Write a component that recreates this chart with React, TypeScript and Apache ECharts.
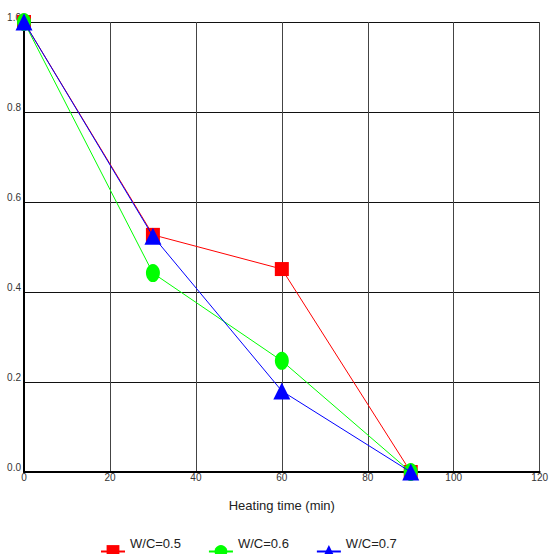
import React, { useEffect, useRef } from "react";
import * as echarts from "echarts";

// Heating time (min) at which each residual ratio was measured
const heatingTimes = [0, 30, 60, 90];

// Residual ratio for each water/cement ratio
const wc05 = [1.0, 0.527, 0.451, 0.0];
const wc06 = [1.0, 0.442, 0.247, 0.0];
const wc07 = [1.0, 0.524, 0.18, 0.0];

const seriesNames = ["W/C=0.5", "W/C=0.6", "W/C=0.7"];
const seriesColors = ["#ff0000", "#00ff00", "#0000ff"];

const FONT = "'Liberation Sans', Arial, Helvetica, sans-serif";

export default function App() {
  const ref = useRef<HTMLDivElement>(null);

  useEffect(() => {
    if (!ref.current) return;
    const chart = echarts.init(ref.current, undefined, { renderer: "svg" });

    const pairs = (ys: number[]) => heatingTimes.map((t, i) => [t, ys[i]]);
    const symbols: any[] = ["rect", "circle", "triangle"];
    const sizes: any[] = [14, [14, 18], 17];
    const values = [wc05, wc06, wc07];

    chart.setOption({
      animation: false,
      backgroundColor: "#ffffff",
      grid: { left: 24, right: 8, top: 22, bottom: 82, containLabel: false },
      legend: {
        top: 532,
        left: 95,
        itemWidth: 24,
        itemHeight: 16,
        itemGap: 27,
        formatter: (name: string) => `{t|${name}}`,
        textStyle: {
          fontFamily: FONT,
          fontSize: 13,
          color: "#222",
          rich: {
            t: {
              fontFamily: FONT,
              fontSize: 13,
              color: "#222",
              padding: [0, 0, 16, 0],
            },
          },
        },
        data: seriesNames,
      },
      xAxis: {
        type: "value",
        min: 0,
        max: 120,
        interval: 20,
        name: "Heating time (min)",
        nameLocation: "middle",
        nameGap: 27,
        nameTextStyle: { fontFamily: FONT, fontSize: 13, color: "#222" },
        axisLine: { show: true, lineStyle: { color: "#000", width: 2 } },
        axisTick: { show: false },
        axisLabel: { fontFamily: FONT, fontSize: 10, color: "#333", margin: 0 },
        splitLine: { show: true, lineStyle: { color: "#444", width: 1 } },
      },
      yAxis: {
        type: "value",
        min: 0,
        max: 1,
        interval: 0.2,
        axisLine: { show: true, lineStyle: { color: "#000", width: 2 } },
        axisTick: { show: false },
        axisLabel: {
          fontFamily: FONT,
          fontSize: 10,
          color: "#333",
          margin: 3,
          verticalAlign: "bottom",
          formatter: (v: number) => v.toFixed(1),
        },
        splitLine: { show: true, lineStyle: { color: "#111", width: 1 } },
      },
      series: seriesNames.map((name, i) => ({
        name,
        type: "line",
        data: pairs(values[i]),
        symbol: symbols[i],
        symbolSize: sizes[i],
        clip: false,
        lineStyle: { color: seriesColors[i], width: 1 },
        itemStyle: { color: seriesColors[i] },
        z: 2 + i,
      })),
    });

    return () => chart.dispose();
  }, []);

  return (
    <div
      ref={ref}
      style={{ position: "fixed", left: 0, top: 0, width: 551, height: 554 }}
    />
  );
}
